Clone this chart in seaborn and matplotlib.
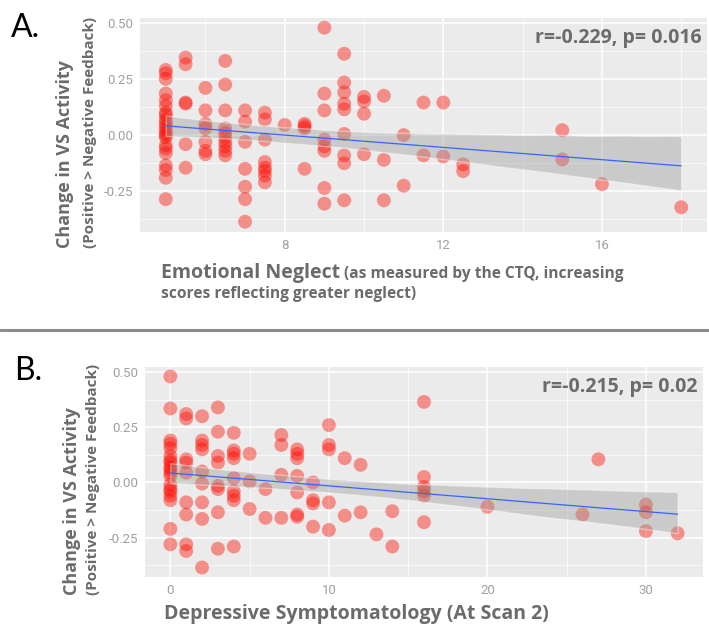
import numpy as np
import pandas as pd
import matplotlib
matplotlib.use('Agg')
import matplotlib.pyplot as plt
from matplotlib.ticker import FixedLocator
from matplotlib.lines import Line2D
import seaborn as sns

# Panel A: emotional neglect (CTQ) vs change in VS activity
neglect_scores = (
    [5] * 22 + [5.5] * 6 + [6] * 7 + [6.5] * 10 + [7] * 7 + [7.5] * 8 + [8] * 1
    + [8.5] * 4 + [9] * 8 + [9.5] * 9 + [10] * 4 + [10.5] * 3 + [11] * 2
    + [11.5] * 2 + [12] * 2 + [12.5] * 2 + [15] * 2 + [16] * 1 + [18] * 1
)
vs_change_a = [
    0.29, 0.275, 0.25, 0.185, 0.155, 0.13, 0.10, 0.09, 0.07, 0.055, 0.04,
    0.025, 0.01, 0.0, -0.01, -0.045, -0.06, -0.08, -0.135, -0.155, -0.19, -0.285,
    0.345, 0.315, 0.145, 0.14, -0.04, -0.145,
    0.21, 0.11, 0.05, 0.03, -0.03, -0.07, -0.085,
    0.33, 0.225, 0.11, 0.03, 0.01, -0.01, -0.03, -0.05, -0.07, -0.09,
    0.11, 0.06, -0.03, -0.15, -0.23, -0.285, -0.385,
    0.10, 0.07, -0.02, -0.12, -0.145, -0.16, -0.18, -0.21,
    0.045,
    0.05, 0.04, 0.03, -0.15,
    0.478, 0.185, 0.11, -0.02, -0.05, -0.07, -0.235, -0.305,
    0.362, 0.234, 0.19, 0.14, 0.115, 0.005, -0.09, -0.125, -0.29,
    0.17, 0.15, 0.095, -0.085,
    0.175, -0.11, -0.29,
    0.0, -0.225,
    0.145, -0.09,
    0.145, -0.095,
    -0.13, -0.16,
    0.022, -0.108,
    -0.218,
    -0.321,
]

# Panel B: depressive symptomatology at scan 2 vs change in VS activity
depression_scores = (
    [0] * 19 + [1] * 9 + [2] * 9 + [3] * 8 + [4] * 9 + [5] * 3 + [6] * 2
    + [7] * 4 + [8] * 7 + [9] * 4 + [10] * 5 + [11] * 2 + [12] * 2 + [13] * 1
    + [14] * 2 + [16] * 6 + [20] * 1 + [26] * 1 + [27] * 1 + [30] * 3 + [32] * 1
)
vs_change_b = [
    0.48, 0.335, 0.19, 0.175, 0.155, 0.12, 0.10, 0.09, 0.07, 0.06, 0.045,
    0.03, -0.01, -0.03, -0.04, -0.06, -0.08, -0.21, -0.28,
    0.31, 0.29, 0.105, 0.09, 0.045, -0.09, -0.145, -0.28, -0.31,
    0.30, 0.19, 0.17, 0.15, 0.05, -0.005, -0.09, -0.165, -0.385,
    0.34, 0.23, 0.12, 0.09, -0.015, -0.03, -0.135, -0.30,
    0.225, 0.145, 0.13, 0.11, 0.02, -0.04, -0.06, -0.08, -0.29,
    0.13, 0.005, -0.12,
    -0.03, -0.16,
    0.215, 0.17, 0.035, -0.16,
    0.15, 0.13, 0.11, 0.03, -0.045, -0.145, -0.155,
    0.0, -0.08, -0.095, -0.20,
    0.26, 0.17, 0.15, -0.09, -0.215,
    0.11, -0.15,
    0.08, -0.135,
    -0.235,
    -0.13, -0.29,
    0.365, 0.025, -0.02, -0.04, -0.06, -0.18,
    -0.11,
    -0.145,
    0.105,
    -0.10, -0.135, -0.22,
    -0.23,
]

y_ticks = [-0.25, 0.0, 0.25, 0.50]
y_minor = [-0.375, -0.125, 0.125, 0.375]
y_tick_labels = ['-0.25', '0.00', '0.25', '0.50']
stats_a = 'r=-0.229, p= 0.016'
stats_b = 'r=-0.215, p= 0.02'

W, H = 709, 631
LABEL_GRAY = '#6b6b6b'
TICK_GRAY = '#a0a0a0'
POINT_COLOR = '#ff0c00'

sns.set_theme(style='darkgrid', rc={
    'axes.facecolor': '#ebebeb',
    'grid.color': 'white',
    'axes.unicode_minus': False,
})
plt.rcParams['font.family'] = ['Open Sans', 'DejaVu Sans']


def px_rect(left, top, right, bottom):
    return [left / W, 1 - bottom / H, (right - left) / W, (bottom - top) / H]


def draw_panel(ax, df, xcol, xlim, ylim, xmajor, xminor, stats):
    sns.scatterplot(data=df, x=xcol, y='vs', ax=ax, s=100, color=POINT_COLOR,
                    alpha=0.42, edgecolor='none', legend=False, zorder=2)
    sns.regplot(data=df, x=xcol, y='vs', ax=ax, scatter=False, ci=95, seed=3,
                color='#3366ff', line_kws={'lw': 0.9, 'zorder': 4})
    band = ax.collections[-1]
    band.set_facecolor('#9a9a9a')
    band.set_alpha(0.4)
    band.set_zorder(3)

    ax.set_xlim(*xlim)
    ax.set_ylim(*ylim)
    ax.xaxis.set_major_locator(FixedLocator(xmajor))
    ax.xaxis.set_minor_locator(FixedLocator(xminor))
    ax.yaxis.set_major_locator(FixedLocator(y_ticks))
    ax.yaxis.set_minor_locator(FixedLocator(y_minor))
    ax.set_yticklabels(y_tick_labels)
    ax.set_xticklabels([str(v) for v in xmajor])
    ax.grid(which='major', color='white', lw=1.1)
    ax.grid(which='minor', color='white', lw=0.5)
    ax.tick_params(which='major', length=3, width=0.8, color='#b0b0b0',
                   labelsize=9.5, labelcolor=TICK_GRAY, pad=2)
    ax.tick_params(which='minor', length=0)
    for lab in ax.get_xticklabels() + ax.get_yticklabels():
        lab.set_family(['Roboto', 'DejaVu Sans'])
    for sp in ax.spines.values():
        sp.set_visible(False)
    ax.set_xlabel('')
    ax.set_ylabel('')
    ax.text(0.991, 0.905, stats, transform=ax.transAxes, ha='right', va='center',
            fontsize=14, fontweight='bold', color=LABEL_GRAY, zorder=5)


fig = plt.figure(figsize=(W / 100, H / 100), dpi=100)

df_a = pd.DataFrame({'neglect': neglect_scores, 'vs': vs_change_a})
df_b = pd.DataFrame({'depression': depression_scores, 'vs': vs_change_b})

ax_a = fig.add_axes(px_rect(140, 18, 707, 232))
draw_panel(ax_a, df_a, 'neglect', (4.35, 18.65), (-0.431, 0.521),
           [8, 12, 16], [6, 10, 14, 18], stats_a)

ax_b = fig.add_axes(px_rect(145, 367, 703, 577))
draw_panel(ax_b, df_b, 'depression', (-1.6, 33.6), (-0.428, 0.523),
           [0, 10, 20, 30], [5, 15, 25], stats_b)


def fx(x):
    return x / W


def fy(y):
    return 1 - y / H


# panel letters
fig.text(fx(11), fy(37), 'A.', fontsize=23, color='black', family=['Lato', 'DejaVu Sans'])
fig.text(fx(14), fy(380), 'B.', fontsize=23, color='black', family=['Lato', 'DejaVu Sans'])

# y labels (two lines, rotated, aligned at the bottom)
for cx1, cx2, ybot in [(65, 90, 248), (72, 93, 595)]:
    fig.text(fx(cx1), fy(ybot), 'Change in VS Activity', rotation=90,
             rotation_mode='anchor', ha='left', va='center', fontsize=13,
             fontweight='bold', color=LABEL_GRAY)
    fig.text(fx(cx2), fy(ybot), '(Positive > Negative Feedback)', rotation=90,
             rotation_mode='anchor', ha='left', va='center', fontsize=11,
             fontweight='bold', color=LABEL_GRAY)

# x label A: big title with smaller explanation
big = fig.text(fx(161), fy(278), 'Emotional Neglect', ha='left', va='baseline',
               fontsize=14, fontweight='bold', color=LABEL_GRAY)
fig.canvas.draw()
bb = big.get_window_extent(renderer=fig.canvas.get_renderer())
fig.text(bb.x1 / W + 4 / W, fy(278), '(as measured by the CTQ, increasing',
         ha='left', va='baseline', fontsize=11.2, fontweight='bold', color=LABEL_GRAY)
fig.text(fx(161), fy(298), 'scores reflecting greater neglect)', ha='left',
         va='baseline', fontsize=11.2, fontweight='bold', color=LABEL_GRAY)

# x label B
fig.text(fx(164), fy(619), 'Depressive Symptomatology (At Scan 2)', ha='left',
         va='baseline', fontsize=14, fontweight='bold', color=LABEL_GRAY)

# separator between panels
fig.add_artist(Line2D([0, 1], [fy(330), fy(330)], transform=fig.transFigure,
                      color='#8c8c8c', lw=2.2))

fig.savefig('out.png', dpi=100)
